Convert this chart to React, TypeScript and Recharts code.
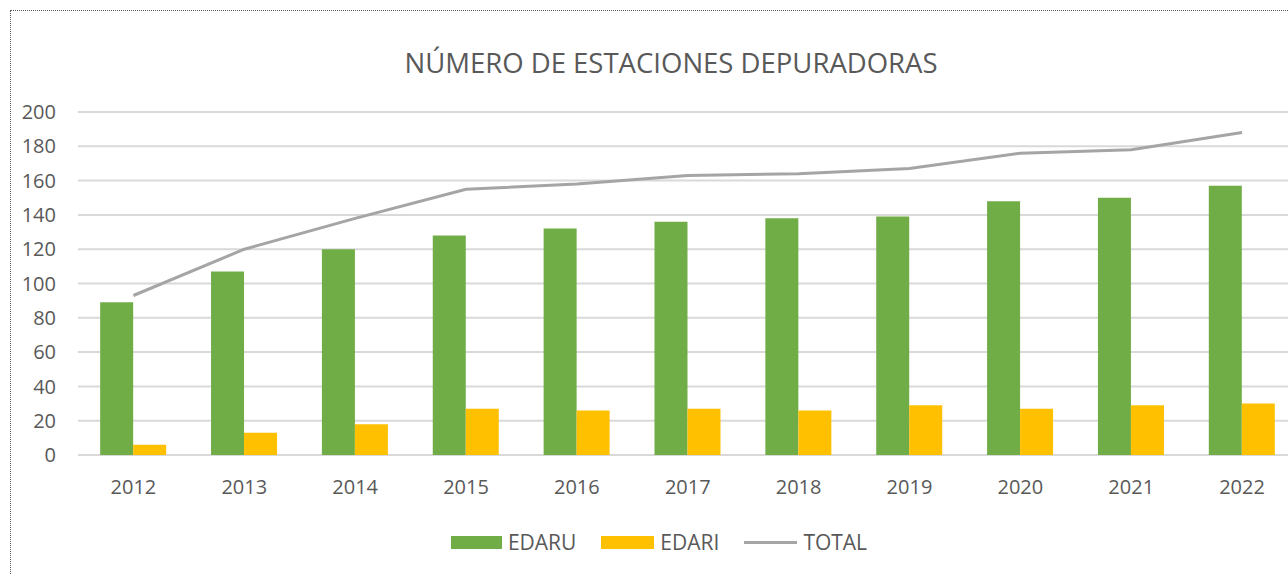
import React from 'react';
import { ComposedChart, Bar, Line, XAxis, YAxis, CartesianGrid, Legend } from 'recharts';

const years = ['2012', '2013', '2014', '2015', '2016', '2017', '2018', '2019', '2020', '2021', '2022'];
const edaru = [89, 107, 120, 128, 132, 136, 138, 139, 148, 150, 157];
const edari = [6, 13, 18, 27, 26, 27, 26, 29, 27, 29, 30];
const total = [93, 120, 138, 155, 158, 163, 164, 167, 176, 178, 188];
const yTicks = [0, 20, 40, 60, 80, 100, 120, 140, 160, 180, 200];

const data = years.map((y, i) => ({ year: y, EDARU: edaru[i], EDARI: edari[i], TOTAL: total[i] }));

const FONT = '"Open Sans", sans-serif';
const TEXT = '#595959';

const LegendContent = () => (
  <div style={{ display: 'flex', justifyContent: 'center', alignItems: 'center', fontFamily: FONT, fontSize: 21, color: TEXT, paddingLeft: 30 }}>
    <span style={{ display: 'inline-block', width: 51, height: 13, background: '#70AD47', marginRight: 6 }} />
    <span style={{ marginRight: 25 }}>EDARU</span>
    <span style={{ display: 'inline-block', width: 53, height: 13, background: '#FFC000', marginRight: 6 }} />
    <span style={{ marginRight: 25 }}>EDARI</span>
    <span style={{ display: 'inline-block', width: 53, height: 3, background: '#A5A5A5', marginRight: 6 }} />
    <span>TOTAL</span>
  </div>
);

export default function App() {
  return (
    <div style={{ position: 'absolute', left: 0, top: 0, width: 1288, height: 575, overflow: 'hidden', background: '#fff' }}>
      <div style={{ position: 'absolute', left: 10, top: 10, width: 1300, height: 600, border: '1px dotted #595959', boxSizing: 'border-box' }} />
      <div style={{ position: 'absolute', left: 271, top: 44, width: 800, textAlign: 'center', fontFamily: FONT, fontSize: 27.5, color: TEXT, whiteSpace: 'nowrap' }}>
        NÚMERO DE ESTACIONES DEPURADORAS
      </div>
      <ComposedChart
        width={1288}
        height={575}
        data={data}
        margin={{ top: 112, right: -9.5, bottom: 90, left: 0 }}
        barCategoryGap="20%"
        barGap={0}
        style={{ position: 'absolute', left: 0, top: 0 }}
      >
        <CartesianGrid vertical={false} stroke="#D9D9D9" strokeWidth={2} />
        <XAxis
          dataKey="year"
          axisLine={false}
          tickLine={false}
          height={30}
          tickSize={6}
          tickMargin={19}
          tick={{ fill: TEXT, fontSize: 20, fontFamily: FONT }}
        />
        <YAxis
          domain={[0, 200]}
          ticks={yTicks}
          width={78}
          axisLine={false}
          tickLine={false}
          tickSize={6}
          tickMargin={16}
          interval={0}
          tick={{ fill: TEXT, fontSize: 20, fontFamily: FONT }}
        />
        <Legend
          layout="horizontal"
          verticalAlign="middle"
          align="center"
          content={<LegendContent />}
          wrapperStyle={{ top: 528, left: 0, width: 1288 }}
        />
        <Bar dataKey="EDARU" fill="#70AD47" isAnimationActive={false} />
        <Bar dataKey="EDARI" fill="#FFC000" isAnimationActive={false} />
        <Line dataKey="TOTAL" type="linear" stroke="#A5A5A5" strokeWidth={3} dot={false} activeDot={false} isAnimationActive={false} />
      </ComposedChart>
    </div>
  );
}
